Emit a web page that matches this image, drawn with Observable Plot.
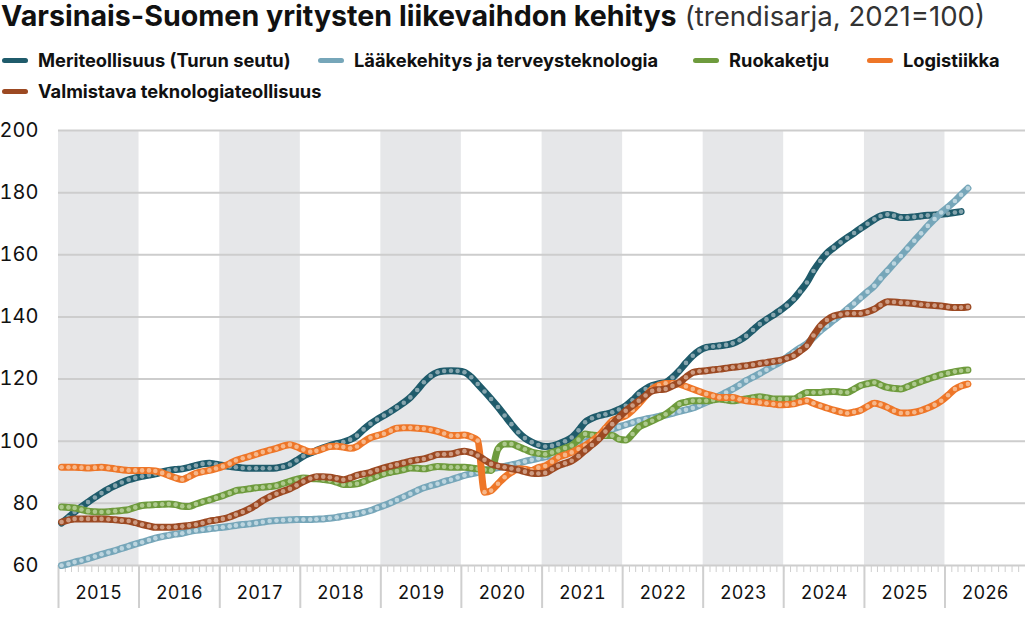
<!DOCTYPE html>
<html>
<head>
<meta charset="utf-8">
<script src="https://cdn.jsdelivr.net/npm/d3@7"></script>
<script src="https://cdn.jsdelivr.net/npm/@observablehq/plot@0.6"></script>
<style>
  html, body { margin: 0; padding: 0; background: #fff; }
  body { width: 1026px; height: 618px; overflow: hidden; font-family: Inter, "Noto Sans", sans-serif; color: #111; position: relative; }
  #title { position: absolute; left: 1px; top: -2px; font-size: 28.6px; white-space: nowrap; line-height: 36px; }
  #title b { font-weight: 700; }
  #title span { font-weight: 400; color: #333; font-size: 27.6px; }
  .leg { position: absolute; font-size: 18.3px; font-weight: 700; white-space: nowrap; display: flex; align-items: center; line-height: 24px; }
  .sw { display: inline-block; width: 26px; height: 5px; border-radius: 3px; margin-right: 10px; }
  #chart { position: absolute; left: 0; top: 100px; }
</style>
</head>
<body>
<div id="title"><b>Varsinais-Suomen yritysten liikevaihdon kehitys</b> <span>(trendisarja, 2021=100)</span></div>
<div id="legend"></div>
<div id="chart"></div>
<script>
// ---- Data (monthly trend index, 2021=100), first month Jan 2015 ----
const seriesNames = ["Meriteollisuus (Turun seutu)", "Lääkekehitys ja terveysteknologia", "Ruokaketju", "Logistiikka", "Valmistava teknologiateollisuus"];
const startYear = 2015;
const yearLabels = ["2015","2016","2017","2018","2019","2020","2021","2022","2023","2024","2025","2026"];
const yTicks = [60, 80, 100, 120, 140, 160, 180, 200];

const meriteollisuus = [
73.7,75.5,77.2,78.9,80.4,81.9,83.3,84.6,85.7,86.7,87.6,88.2,
88.7,89.1,89.5,90.1,90.6,90.9,91.1,91.6,92.2,92.7,92.9,92.6,
92.2,91.9,91.6,91.4,91.3,91.3,91.3,91.3,91.4,91.8,92.5,93.8,
95.2,96.2,97.0,97.9,98.6,99.2,99.7,100.5,101.8,103.8,105.6,107.0,
108.3,109.6,110.9,112.4,114.1,116.5,119.0,121.0,122.2,122.6,122.7,122.6,
122.2,120.6,118.4,116.0,113.6,111.0,108.3,105.5,102.9,101.0,99.7,98.8,
98.3,98.5,99.1,100.0,101.2,103.5,106.1,107.4,108.2,108.7,109.3,110.2,
111.4,113.2,115.2,116.8,117.9,118.5,118.9,120.5,122.7,125.2,127.5,129.2,
130.2,130.5,130.7,131.0,131.5,132.5,133.9,135.8,137.7,139.2,140.6,142.0,
143.7,145.7,148.2,151.1,154.8,158.0,160.5,162.3,164.0,165.5,167.0,168.5,
170.0,171.4,172.5,173.0,172.6,172.0,172.0,172.2,172.5,172.7,172.8,173.0,
173.3,173.6,173.9];

const laakekehitys = [
60.0,60.5,61.1,61.6,62.2,62.9,63.6,64.2,64.8,65.5,66.2,66.9,
67.5,68.2,68.8,69.3,69.7,70.1,70.4,70.9,71.3,71.6,71.8,72.1,
72.3,72.6,72.9,73.2,73.4,73.7,74.0,74.3,74.5,74.6,74.7,74.8,
74.8,74.8,74.9,75.0,75.2,75.5,75.9,76.2,76.6,77.1,77.7,78.5,
79.3,80.2,81.1,82.1,83.1,84.1,85.0,85.7,86.3,87.0,87.6,88.3,
89.0,89.5,90.0,90.6,91.1,91.5,91.9,92.4,92.9,93.5,94.0,94.5,
95.0,95.4,95.9,96.7,97.5,98.5,99.6,100.7,101.8,102.9,103.9,104.6,
105.3,106.0,106.6,107.1,107.5,108.0,108.4,109.0,109.6,110.1,110.7,111.6,
112.5,113.5,114.6,115.7,116.8,118.1,119.5,120.6,121.8,123.0,124.3,125.4,
127.0,128.6,130.0,131.4,133.4,135.5,137.2,139.0,140.7,142.5,144.3,146.2,
148.1,150.0,152.4,154.8,157.2,159.6,162.0,164.5,166.9,169.3,171.5,173.6,
175.4,177.3,179.3,181.4];

const ruokaketju = [
78.8,78.7,78.5,78.0,77.5,77.3,77.2,77.3,77.5,77.7,78.0,78.7,
79.3,79.5,79.6,79.7,79.8,79.6,79.1,79.0,79.8,80.5,81.1,81.8,
82.5,83.3,84.1,84.4,84.7,85.0,85.2,85.4,85.7,86.4,87.1,87.7,
88.2,88.0,87.9,87.7,87.4,86.8,86.1,86.1,86.3,87.0,87.9,88.7,
89.5,90.0,90.4,90.9,91.4,91.3,91.1,91.5,91.9,91.8,91.6,91.6,
91.6,91.4,91.1,90.8,90.6,97.5,99.1,99.1,98.3,97.4,96.5,96.1,
95.8,96.4,97.0,97.8,98.6,100.5,102.3,102.0,101.8,101.8,101.8,100.7,
100.4,102.3,104.5,105.6,106.6,107.6,108.7,110.3,112.0,112.6,113.0,113.0,
113.0,113.3,113.6,113.3,113.0,113.3,113.6,114.0,114.3,114.0,113.6,113.6,
113.6,113.6,114.6,115.7,115.7,115.7,115.9,116.0,115.8,115.7,116.8,117.9,
118.5,118.9,118.1,117.3,117.0,116.8,117.5,118.4,119.2,120.0,120.7,121.4,
121.9,122.4,122.7,122.9];

const logistiikka = [
91.6,91.6,91.6,91.5,91.4,91.5,91.6,91.4,91.1,90.8,90.6,90.6,
90.6,90.6,90.4,89.8,89.0,88.2,87.7,88.6,89.7,90.2,90.6,91.2,
91.9,92.8,93.8,94.5,95.1,95.8,96.5,97.1,97.7,98.4,98.9,98.2,
97.3,96.6,96.9,97.6,98.3,98.4,98.1,97.7,98.3,99.8,101.1,101.8,
102.4,103.4,104.2,104.3,104.3,104.2,104.0,103.7,103.2,102.5,101.8,101.8,
102.0,101.4,100.2,83.6,84.1,86.3,88.4,90.0,91.1,91.0,90.6,91.5,
92.0,93.4,94.8,95.6,96.4,97.5,98.6,100.1,101.8,104.2,106.6,107.4,
108.2,110.0,112.0,114.5,116.8,118.0,118.6,118.6,118.4,117.6,116.8,116.0,
115.2,114.6,114.1,114.1,114.1,113.5,113.0,112.8,112.5,112.2,112.0,111.7,
111.8,112.0,112.6,113.0,112.2,111.4,110.7,110.0,109.4,109.0,109.4,110.0,
111.2,112.2,111.8,110.9,109.8,109.1,109.1,109.3,109.9,110.7,111.7,113.0,
114.8,116.8,117.8,118.4];

const valmistava = [
74.0,74.6,75.0,75.0,75.0,75.0,75.0,74.9,74.7,74.5,74.3,73.8,
73.2,72.7,72.3,72.3,72.3,72.4,72.6,72.9,73.2,73.7,74.3,74.6,
75.0,75.6,76.4,77.2,78.2,79.5,80.9,82.1,83.1,83.9,84.7,85.8,
87.0,88.0,88.6,88.6,88.4,88.0,87.6,88.2,89.0,89.5,90.0,90.7,
91.4,92.0,92.5,93.0,93.6,94.0,94.3,95.0,95.7,95.8,95.9,96.4,
96.8,96.3,95.4,94.0,92.7,92.0,91.6,91.2,90.8,90.2,89.7,89.6,
89.8,91.0,92.1,92.9,93.7,95.2,97.0,98.8,100.7,103.1,105.5,107.7,
109.8,111.5,113.0,114.7,116.2,116.6,116.8,117.8,118.9,120.6,122.1,122.5,
122.7,123.0,123.2,123.5,123.8,124.0,124.3,124.6,125.0,125.3,125.7,126.0,
126.7,127.5,129.0,130.7,134.0,137.1,139.0,140.3,140.8,141.1,141.1,141.1,
141.6,142.5,143.8,144.9,144.8,144.6,144.5,144.3,144.0,143.8,143.7,143.5,
143.2,143.0,143.0,143.2];

const lineColors = ["#1f5b6b", "#76a6b9", "#6e9b3d", "#ee7628", "#9c4922"];
const dotColors  = ["#86a5ae", "#bcd5df", "#adc98d", "#f6b78a", "#cd9b82"];

// ---- Build tables ----
const allValues = [meriteollisuus, laakekehitys, ruokaketju, logistiikka, valmistava];
const tables = allValues.map((vals, s) => vals.map((v, i) => ({
  date: new Date(Date.UTC(startYear, i, 15)),
  value: v,
  series: seriesNames[s]
})));

const yearStarts = yearLabels.map(y => new Date(Date.UTC(+y, 0, 1)));
yearStarts.push(new Date(Date.UTC(+yearLabels[yearLabels.length - 1] + 1, 0, 1)));
const yearMids = yearLabels.map(y => new Date(Date.UTC(+y, 6, 2)));
const months = d3.utcMonths(yearStarts[0], yearStarts[yearStarts.length - 1]);
const bands = yearLabels.map((y, i) => ({x1: yearStarts[i], x2: yearStarts[i + 1]})).filter((d, i) => i % 2 === 0);

// ---- Legend ----
const legendPos = [[2, 48], [318, 48], [693, 48], [867, 48], [2, 79]];
const legend = document.getElementById("legend");
seriesNames.forEach((n, i) => {
  const d = document.createElement("div");
  d.className = "leg";
  d.style.left = legendPos[i][0] + "px";
  d.style.top = legendPos[i][1] + "px";
  d.innerHTML = `<span class="sw" style="background:${lineColors[i]}"></span>${n}`;
  legend.appendChild(d);
});

// ---- Chart ----
const marks = [
  Plot.rect(bands, {x1: "x1", x2: "x2", y1: yTicks[0], y2: yTicks[yTicks.length - 1], fill: "#e6e7e9"}),
  Plot.ruleY(yTicks, {stroke: "#cdcdcd", strokeWidth: 2}),
  Plot.axisY({ticks: yTicks, tickSize: 0, tickPadding: 20, fontSize: 20, label: null, tickFormat: d => String(d), fill: "#111"}),
  Plot.axisX({ticks: months, tickSize: 7, tickFormat: () => "", stroke: "#cfcfcf", label: null}),
  Plot.axisX({ticks: yearStarts.slice(0, -1), tickSize: 43, tickFormat: () => "", stroke: "#cfcfcf", strokeWidth: 2, label: null}),
  Plot.axisX({ticks: yearMids, tickSize: 0, tickPadding: 21, tickFormat: d => String(d.getUTCFullYear()), fontSize: 18, label: null, fill: "#111"})
];
tables.forEach((t, s) => {
  marks.push(Plot.line(t, {x: "date", y: "value", stroke: lineColors[s], strokeWidth: 7, curve: "monotone-x", strokeLinecap: "round", strokeLinejoin: "round"}));
  marks.push(Plot.dot(t, {x: "date", y: "value", r: 2.3, fill: dotColors[s], stroke: "none"}));
});

const chart = Plot.plot({
  width: 1026,
  height: 518,
  marginLeft: 58,
  marginRight: 1,
  marginTop: 30,
  marginBottom: 53,
  style: {fontFamily: "Inter, 'Noto Sans', sans-serif", overflow: "visible", background: "transparent"},
  x: {type: "utc", domain: [yearStarts[0], yearStarts[yearStarts.length - 1]]},
  y: {domain: [yTicks[0], yTicks[yTicks.length - 1]]},
  marks
});
document.getElementById("chart").appendChild(chart);
</script>
</body>
</html>
